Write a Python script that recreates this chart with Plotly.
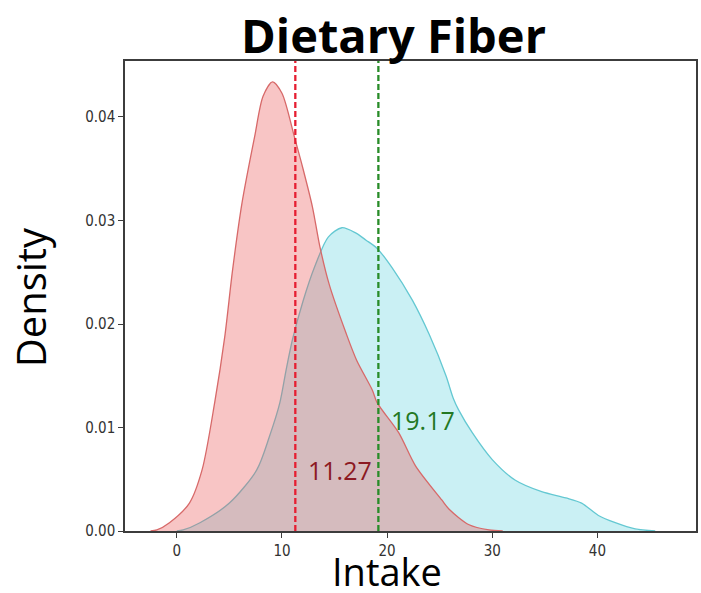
import plotly.graph_objects as go

# Red group density curve (x: intake, y: density)
red_x = [-2.5, -1.9, -0.7, 1.2, 2.4, 3.6, 4.55, 5.3, 6.2, 7.4, 8.2, 9.1, 10.0, 11.2, 12.0, 12.9, 13.6, 14.5, 16.1, 17.1, 18.6, 19.05, 21.1, 22.7, 25.2, 25.9, 27.8, 29.7, 31.0]
red_y = [0.0, 0.0001, 0.0008, 0.0027, 0.0059, 0.0124, 0.0187, 0.0252, 0.0317, 0.0381, 0.0420, 0.0434, 0.0423, 0.0380, 0.0350, 0.0313, 0.0275, 0.0238, 0.0191, 0.0165, 0.0136, 0.0124, 0.0095, 0.0063, 0.0030, 0.0021, 0.0006, 0.0001, 0.0]

# Cyan group density curve
cyan_x = [0.0, 0.6, 2.2, 5.0, 7.6, 8.8, 9.8, 10.4, 11.0, 12.0, 13.1, 14.4, 15.7, 17.0, 18.0, 19.05, 20.5, 22.4, 24.0, 25.6, 26.3, 26.8, 28.1, 30.0, 32.2, 34.7, 37.0, 38.5, 40.1, 41.7, 43.6, 45.5]
cyan_y = [0.0, 0.0001, 0.0008, 0.0027, 0.0059, 0.0091, 0.0124, 0.0156, 0.0185, 0.0222, 0.0255, 0.0284, 0.0293, 0.0288, 0.0281, 0.0273, 0.0254, 0.0223, 0.0190, 0.0150, 0.0128, 0.0117, 0.0095, 0.0069, 0.0049, 0.0038, 0.0032, 0.0027, 0.0015, 0.0008, 0.0002, 0.0]

mean_values = [11.27, 19.17]
mean_labels = ["11.27", "19.17"]
label_pos_x = [15.5, 23.46]
label_pos_y = [0.0059, 0.0107]

x_ticks = [0, 10, 20, 30, 40]
y_ticks = [0.00, 0.01, 0.02, 0.03, 0.04]
y_tick_text = ["0.00", "0.01", "0.02", "0.03", "0.04"]

fig = go.Figure()
fig.add_trace(go.Scatter(x=cyan_x, y=cyan_y, mode="lines", fill="tozeroy",
                         line=dict(color="rgb(100,200,210)", width=1.3, shape="spline", smoothing=0.8),
                         fillcolor="rgba(80,205,220,0.30)", showlegend=False, hoverinfo="skip"))
fig.add_trace(go.Scatter(x=red_x, y=red_y, mode="lines", fill="tozeroy",
                         line=dict(color="rgb(215,105,105)", width=1.3, shape="spline", smoothing=0.8),
                         fillcolor="rgba(235,90,90,0.35)", showlegend=False, hoverinfo="skip"))

line_colors = ["rgb(230,30,50)", "rgb(40,140,40)"]
text_colors = ["rgb(140,25,35)", "rgb(35,120,35)"]
for mv, lc in zip(mean_values, line_colors):
    fig.add_shape(type="line", x0=mv, x1=mv, xref="x", yref="paper", y0=0, y1=1,
                  line=dict(color=lc, width=2.3, dash="6px,3px"))
for lab, lx, ly, tc in zip(mean_labels, label_pos_x, label_pos_y, text_colors):
    fig.add_annotation(x=lx, y=ly, xref="x", yref="y", text=lab, showarrow=False,
                       font=dict(family="Open Sans", size=25, color=tc))

fig.add_annotation(text="<b>Dietary Fiber</b>", xref="paper", yref="paper",
                   x=(394 - 125) / 573, y=(531 - 35) / 470, xanchor="center", yanchor="middle",
                   showarrow=False, font=dict(family="Open Sans", size=47, color="black"))
fig.add_annotation(text="Intake", xref="paper", yref="paper",
                   x=(388 - 125) / 573, y=(531 - 571) / 470, xanchor="center", yanchor="middle",
                   showarrow=False, font=dict(family="Open Sans", size=38, color="black"))
fig.add_annotation(text="Density", xref="paper", yref="paper", textangle=-90,
                   x=(30 - 125) / 573, y=(531 - 297) / 470, xanchor="center", yanchor="middle",
                   showarrow=False, font=dict(family="Open Sans", size=40, color="black"))

axis_common = dict(showgrid=False, zeroline=False, showline=True, mirror=True,
                   linecolor="rgb(60,60,60)", linewidth=1.5, ticks="outside", ticklen=5,
                   tickcolor="rgb(60,60,60)", tickwidth=1,
                   tickfont=dict(family="DejaVu Sans Condensed, DejaVu Sans", size=15, color="rgb(50,50,50)"))
fig.update_xaxes(range=[-4.93, 49.38], tickvals=x_ticks, ticktext=[str(t) for t in x_ticks], **axis_common)
fig.update_yaxes(range=[0, 0.04541], tickvals=y_ticks, ticktext=y_tick_text, **axis_common)

fig.update_layout(width=701, height=593, margin=dict(l=125, r=3, t=61, b=62),
                  plot_bgcolor="white", paper_bgcolor="white", showlegend=False)
fig.write_html("out.html")
